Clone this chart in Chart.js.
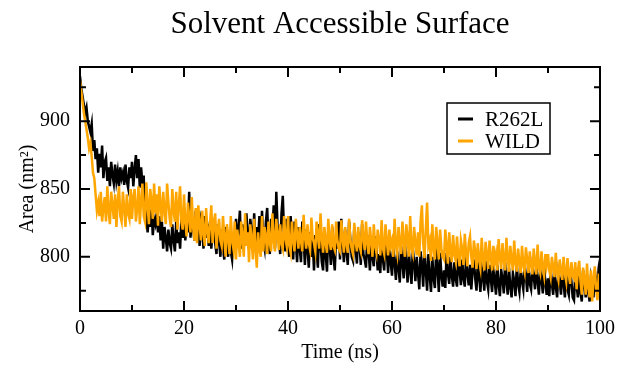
<!DOCTYPE html>
<html lang="en">
<head>
  <meta charset="UTF-8">
  <title>Solvent Accessible Surface</title>
  <script src="https://cdn.jsdelivr.net/npm/chart.js"></script>
  <style>
    html, body { margin: 0; padding: 0; background: #fff; }
  </style>
</head>
<body>
  <canvas id="sasChart" width="617" height="365"></canvas>
  <script>
    // sampled every 0.25 ns, 0 .. 100 ns (one row = 2.5 ns)
    const timeStep = 0.25;
    const seriesNames = ['R262L', 'WILD'];
    const seriesColors = ['#000000', '#ffa500'];
    const yTicks = [775, 800, 825, 850, 875, 900, 925];
    const xTicks = [0, 10, 20, 30, 40, 50, 60, 70, 80, 90, 100];

    const r262l = [
      933, 924, 918, 912, 906, 910, 900, 896, 892, 898,
      878, 886, 872, 880, 862, 876, 866, 882, 858, 870,
      873, 856, 866, 852, 870, 860, 854, 868, 856, 863,
      852, 866, 858, 862, 853, 868, 856, 851, 866, 858,
      870, 852, 864, 875, 858, 872, 851, 866, 854, 860,
      828, 834, 818, 830, 822, 835, 816, 828, 824, 832,
      818, 830, 812, 826, 806, 822, 814, 804, 820, 810,
      806, 824, 812, 804, 826, 810, 818, 806, 828, 814,
      832, 812, 824, 818, 848, 814, 830, 822, 812, 834,
      816, 830, 808, 826, 820, 806, 830, 814, 824, 808,
      826, 806, 818, 828, 810, 802, 824, 812, 800, 820,
      806, 798, 822, 810, 800, 818, 804, 798, 816, 808,
      828, 812, 820, 834, 806, 824, 814, 808, 832, 816,
      806, 828, 818, 810, 832, 804, 822, 812, 830, 808,
      834, 812, 806, 826, 836, 810, 802, 828, 818, 838,
      806, 848, 822, 812, 802, 832, 845, 816, 804, 828,
      812, 800, 830, 818, 798, 826, 810, 796, 822, 806,
      796, 826, 814, 794, 820, 806, 792, 818, 800, 812,
      790, 816, 804, 792, 824, 810, 796, 790, 818, 802,
      789, 820, 808, 794, 822, 800, 790, 816, 806, 826,
      798, 828, 810, 796, 820, 804, 794, 826, 812, 800,
      797, 822, 806, 795, 818, 810, 794, 824, 802, 798,
      792, 816, 804, 790, 812, 800, 793, 815, 806, 790,
      802, 788, 814, 798, 790, 818, 804, 788, 810, 796,
      786, 806, 796, 783, 804, 792, 781, 808, 796, 784,
      810, 794, 781, 804, 790, 780, 806, 796, 782, 800,
      788, 776, 804, 794, 778, 806, 790, 775, 802, 786,
      774, 800, 784, 777, 806, 792, 774, 803, 786, 778,
      790, 777, 803, 788, 780, 800, 786, 778, 796, 784,
      778, 803, 790, 779, 798, 784, 778, 801, 788, 779,
      794, 776, 790, 798, 784, 775, 796, 786, 774, 792,
      786, 775, 797, 782, 776, 794, 784, 774, 796, 782,
      772, 794, 780, 771, 790, 784, 773, 796, 782, 772,
      792, 778, 770, 788, 782, 771, 794, 780, 774, 790,
      782, 776, 795, 786, 774, 793, 780, 776, 792, 786,
      776, 795, 782, 772, 790, 784, 773, 794, 780, 772,
      784, 771, 792, 780, 772, 790, 778, 770, 788, 782,
      772, 791, 780, 770, 789, 776, 772, 791, 782, 770,
      768, 788, 779, 770, 786, 774, 767, 790, 780, 770,
      786, 774, 767, 784, 778, 770, 790, 782, 776, 792,
      798
    ];

    const wild = [
      930, 922, 914, 906, 900, 894, 888, 880, 884, 874,
      862, 858, 846, 834, 840, 830, 848, 826, 836, 844,
      826, 852, 834, 824, 848, 838, 828, 846, 822, 840,
      852, 830, 826, 848, 836, 822, 846, 832, 828, 850,
      828, 844, 850, 826, 836, 852, 824, 842, 854, 830,
      826, 855, 838, 824, 850, 842, 828, 854, 832, 846,
      823, 852, 838, 826, 848, 834, 824, 854, 840, 828,
      822, 850, 834, 826, 848, 820, 838, 852, 826, 820,
      846, 826, 815, 840, 830, 818, 844, 822, 812, 836,
      810, 838, 824, 812, 834, 818, 808, 836, 820, 810,
      824, 838, 810, 826, 832, 806, 820, 828, 812, 808,
      830, 814, 800, 824, 816, 802, 830, 812, 806, 826,
      798, 820, 810, 800, 826, 814, 800, 832, 808, 818,
      796, 824, 812, 798, 828, 806, 792, 818, 806, 800,
      830, 804, 822, 814, 802, 826, 810, 804, 832, 812,
      804, 828, 816, 805, 824, 810, 806, 830, 814, 808,
      830, 808, 803, 826, 812, 804, 828, 816, 806, 822,
      812, 804, 831, 815, 806, 824, 810, 805, 829, 814,
      810, 804, 826, 816, 806, 832, 814, 803, 822, 810,
      803, 828, 812, 805, 824, 808, 805, 826, 812, 806,
      804, 827, 814, 803, 822, 810, 803, 828, 812, 806,
      802, 825, 812, 804, 822, 808, 804, 827, 814, 805,
      826, 810, 802, 822, 812, 800, 824, 808, 803, 820,
      812, 801, 827, 806, 802, 824, 812, 801, 820, 808,
      812, 800, 828, 808, 802, 822, 810, 802, 826, 812,
      800, 824, 814, 800, 830, 806, 802, 822, 810, 801,
      818, 800, 826, 838, 810, 799, 820, 840, 808, 812,
      797, 824, 806, 798, 822, 810, 798, 820, 806, 800,
      798, 820, 808, 795, 818, 804, 796, 816, 802, 797,
      815, 800, 793, 812, 806, 794, 817, 802, 793, 810,
      815, 800, 792, 812, 804, 791, 810, 798, 792, 814,
      798, 790, 811, 802, 791, 812, 800, 790, 808, 796,
      802, 790, 813, 800, 791, 810, 798, 790, 814, 800,
      789, 808, 798, 790, 812, 796, 789, 806, 796, 788,
      808, 794, 789, 807, 798, 788, 804, 794, 787, 806,
      796, 787, 809, 792, 788, 804, 792, 786, 802, 794,
      802, 790, 785, 800, 792, 785, 803, 788, 783, 798,
      790, 783, 800, 788, 782, 799, 788, 780, 796, 786,
      784, 796, 776, 790, 797, 782, 772, 792, 784, 772,
      795, 778, 770, 790, 767, 784, 793, 776, 768, 786,
      785
    ];

    const toPoints = arr => arr.map((v, i) => ({ x: i * timeStep, y: v }));
    const serif = '"Liberation Serif", "DejaVu Serif", serif';

    // xmgrace-style frame with inward ticks, title and legend box
    const gracePlot = {
      id: 'gracePlot',
      afterDatasetsDraw(chart) {
        const { ctx, chartArea: a, scales: { x, y } } = chart;
        ctx.save();
        ctx.strokeStyle = '#000';
        ctx.lineWidth = 2;
        ctx.strokeRect(a.left, a.top, a.right - a.left, a.bottom - a.top);
        ctx.beginPath();
        xTicks.forEach(t => {
          const px = x.getPixelForValue(t);
          const len = t % 20 === 0 ? 10 : 6;
          ctx.moveTo(px, a.bottom); ctx.lineTo(px, a.bottom - len);
          ctx.moveTo(px, a.top); ctx.lineTo(px, a.top + len);
        });
        yTicks.forEach(t => {
          const py = y.getPixelForValue(t);
          const len = t % 50 === 0 ? 10 : 6;
          ctx.moveTo(a.left, py); ctx.lineTo(a.left + len, py);
          ctx.moveTo(a.right, py); ctx.lineTo(a.right - len, py);
        });
        ctx.stroke();

        // title
        ctx.fillStyle = '#000';
        ctx.font = '31px ' + serif;
        ctx.textAlign = 'center';
        ctx.textBaseline = 'middle';
        ctx.fillText('Solvent Accessible Surface', (a.left + a.right) / 2, 25);

        // legend
        const bx = 447, by = 103, bw = 103, bh = 51;
        ctx.fillStyle = '#fff';
        ctx.fillRect(bx, by, bw, bh);
        ctx.lineWidth = 1.5;
        ctx.strokeRect(bx, by, bw, bh);
        ctx.font = '21px ' + serif;
        ctx.textAlign = 'left';
        seriesNames.forEach((name, i) => {
          const ly = by + 16 + i * 22;
          ctx.strokeStyle = seriesColors[i];
          ctx.lineWidth = 3;
          ctx.beginPath();
          ctx.moveTo(bx + 11, ly);
          ctx.lineTo(bx + 26, ly);
          ctx.stroke();
          ctx.fillStyle = '#000';
          ctx.fillText(name, bx + 38, ly + 1);
        });
        ctx.restore();
      }
    };

    const ctx = document.getElementById('sasChart').getContext('2d');
    new Chart(ctx, {
      type: 'line',
      data: {
        datasets: [
          {
            label: seriesNames[0],
            data: toPoints(r262l),
            borderColor: seriesColors[0],
            borderWidth: 2.5,
            pointRadius: 0,
            order: 2
          },
          {
            label: seriesNames[1],
            data: toPoints(wild),
            borderColor: seriesColors[1],
            borderWidth: 2.5,
            pointRadius: 0,
            order: 1
          }
        ]
      },
      options: {
        responsive: false,
        animation: false,
        layout: { padding: { top: 67, right: 17, left: 0, bottom: 0 } },
        plugins: {
          legend: { display: false },
          tooltip: { enabled: false }
        },
        scales: {
          x: {
            type: 'linear',
            min: 0,
            max: 100,
            afterBuildTicks: s => { s.ticks = xTicks.map(v => ({ value: v })); },
            afterFit: s => { s.height = 54; s.paddingRight = 17; s.paddingLeft = 0; },
            grid: { display: false, drawTicks: false },
            border: { display: false },
            ticks: {
              autoSkip: false,
              maxRotation: 0,
              padding: 6,
              color: '#000',
              font: { family: serif, size: 20 },
              callback: v => (v % 20 === 0 ? v : '')
            },
            title: {
              display: true,
              text: 'Time (ns)',
              color: '#000',
              font: { family: serif, size: 20 },
              padding: { top: 0, bottom: 0 }
            }
          },
          y: {
            min: 760,
            max: 940,
            afterBuildTicks: s => { s.ticks = yTicks.map(v => ({ value: v })); },
            afterFit: s => { s.width = 80; },
            grid: { display: false, drawTicks: false },
            border: { display: false },
            ticks: {
              autoSkip: false,
              padding: 10,
              color: '#000',
              font: { family: serif, size: 20 },
              callback: v => (v % 50 === 0 ? v : '')
            },
            title: {
              display: true,
              text: 'Area (nm²)',
              color: '#000',
              font: { family: serif, size: 20 },
              padding: { top: 16, bottom: 0 }
            }
          }
        }
      },
      plugins: [gracePlot]
    });
  </script>
</body>
</html>
